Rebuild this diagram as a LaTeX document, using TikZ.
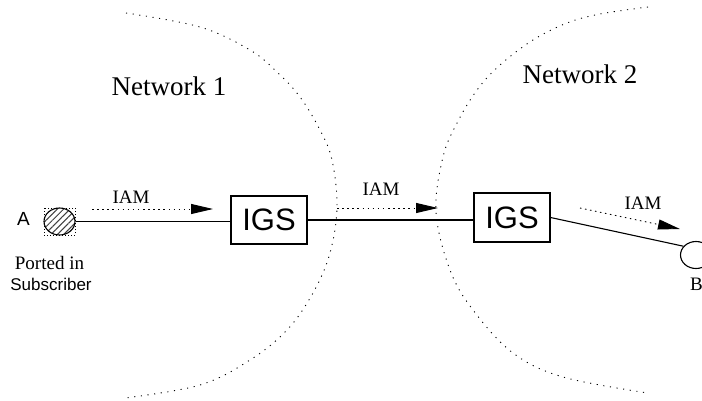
\documentclass[tikz,border=0pt]{standalone}
\usepackage{fontspec}
\setmainfont{Liberation Serif}
\setsansfont{Liberation Sans}
\usetikzlibrary{shapes.geometric,arrows.meta,patterns.meta}
\begin{document}
\begin{tikzpicture}[x=1pt,y=-1pt,
  igsbox/.style={draw,line width=1.1pt,minimum width=76pt,minimum height=48pt,inner sep=0pt,font=\sffamily\fontsize{31}{33}\selectfont},
  term/.style={ellipse,draw,line width=1.1pt,minimum width=31pt,minimum height=27pt,inner sep=0pt},
  netarc/.style={line width=0.9pt,dash pattern=on 1.1pt off 5.6pt},
  msg/.style={line width=0.9pt,dash pattern=on 1.5pt off 3.6pt,-{Triangle[length=22pt,width=10pt]}},
  link/.style={line width=1.1pt},
  lbl/.style={font=\fontsize{19}{21}\selectfont,anchor=base,inner sep=0pt},
  netlbl/.style={font=\fontsize{27}{30}\selectfont,anchor=base,inner sep=0pt},
  sflbl/.style={font=\sffamily\fontsize{17}{20}\selectfont,anchor=base,inner sep=0pt},
]
\useasboundingbox (0,0) rectangle (702,400);

% network boundaries
\draw[netarc] plot[smooth,tension=0.6] coordinates {(126,13) (200,27) (250,50) (277,72) (300,97) (320,130) (332,160) (337,207) (330,253) (313,293) (287,330) (250,360) (200,385) (125,398)};
\draw[netarc] plot[smooth,tension=0.6] coordinates {(648,7) (600,14) (567,23) (533,40) (500,65) (477,90) (457,123) (443,157) (436,212) (450,270) (473,310) (513,353) (563,377) (648,393)};

\node[netlbl] (net1) at (169,95) {Network 1};
\node[netlbl] (net2) at (580,83) {Network 2};

% subscriber A
\draw[line width=0.6pt,dash pattern=on 1pt off 2pt] (44,208) rectangle (75,235);
\node[term,preaction={fill=white},pattern={Lines[angle=45,distance=4.5pt,line width=1pt]},pattern color=darkgray] (A) at (59.5,221.5) {};
\node[sflbl,font=\sffamily\fontsize{19}{21}\selectfont] (Alab) at (23.5,225) {A};
\node[lbl] (ported) at (49.5,269) {Ported in};
\node[sflbl] (subs) at (51,290) {Subscriber};

% gateways
\node[igsbox] (igs1) at (269,220) {IGS};
\node[igsbox,minimum height=49pt] (igs2) at (512,217.5) {IGS};

% subscriber B
\node[term] (B) at (696,255) {};
\node[lbl,anchor=base west] (Blab) at (690,290) {B};

% links
\draw[link] (A.east) -- (A.east -| igs1.west);
\draw[link] (igs1.east) -- (igs1.east -| igs2.west);
\draw[link] (igs2.east) -- (B.145);

% IAM messages
\coordinate (m1s) at (92,209);
\coordinate (m1e) at (213,209);
\coordinate (m2s) at (337,208);
\coordinate (m2e) at (438,208);
\coordinate (m3s) at (580,208);
\coordinate (m3e) at (680,229);
\draw[msg] (m1s) -- (m1e);
\draw[msg] (m2s) -- (m2e);
\draw[msg] (m3s) -- (m3e);
\node[lbl] (iam1) at (131,203) {IAM};
\node[lbl] (iam2) at (381,195) {IAM};
\node[lbl] (iam3) at (643,209) {IAM};
\end{tikzpicture}
\end{document}
